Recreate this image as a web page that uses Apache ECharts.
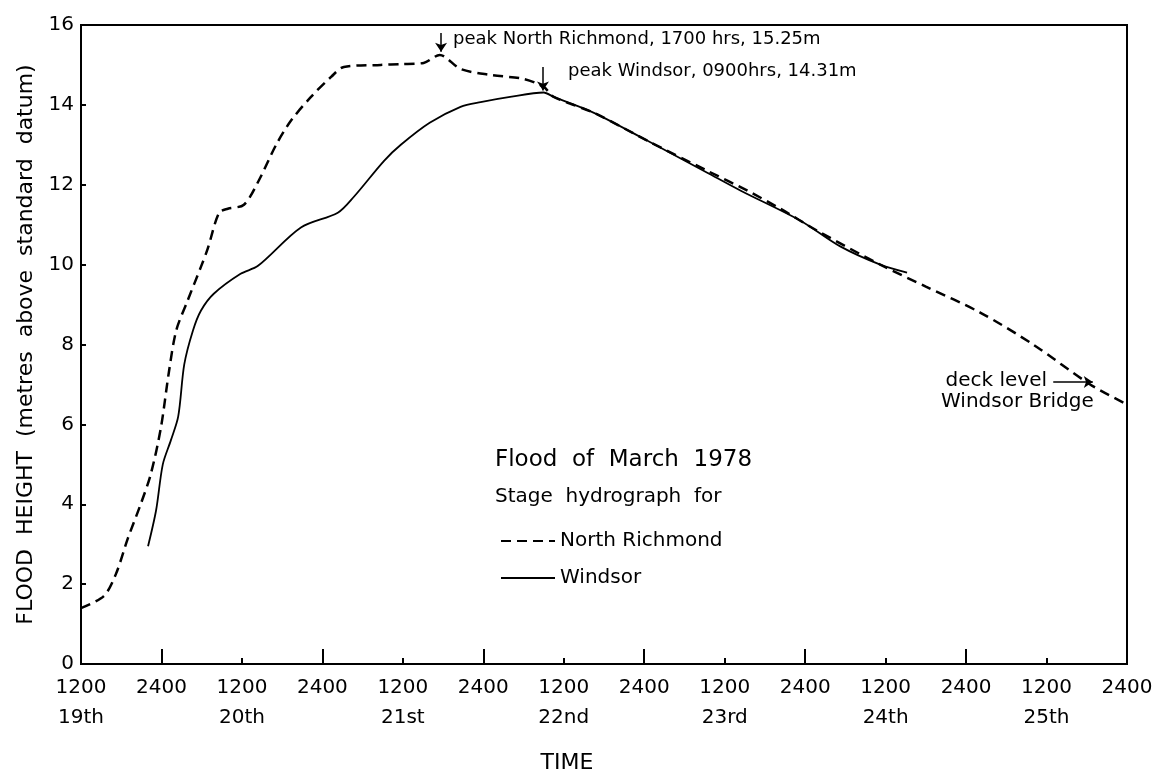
<!DOCTYPE html>
<html lang="en">
<head>
    <meta charset="UTF-8">
    <title>Flood of March 1978</title>
    <style>
        html, body { margin: 0; padding: 0; background: #fff; }
    </style>
</head>
<body>
<div id="main" style="width: 1174px;height:781px;"></div>
<script src="https://cdn.jsdelivr.net/npm/echarts@6.0.0/dist/echarts.min.js"></script>
<script>

// hours after 1200 on the 19th
let nrTime = [0, 3.4, 5.2, 7, 8.9, 10.4, 11.9, 13.1, 14.2, 15.9, 17.9, 18.9, 20.6, 21.9, 24.3, 26.5, 29.1, 31.3, 34.3, 37.3, 39.2, 44.7, 47.7, 51.1, 53.5, 56.6, 61, 66, 69, 70.5, 76.5, 84.5, 93.4, 99.4, 104.3, 109.8, 119.2, 126, 134.1, 142, 150.5, 156]
let nrHeight = [1.4, 1.7, 2.25, 3.15, 4.0, 4.75, 5.9, 7.3, 8.35, 9.1, 9.95, 10.4, 11.3, 11.4, 11.5, 12.1, 13.0, 13.6, 14.2, 14.7, 14.95, 15.0, 15.02, 15.05, 15.25, 14.9, 14.75, 14.65, 14.45, 14.2, 13.8, 13.1, 12.35, 11.85, 11.4, 10.85, 10.0, 9.45, 8.8, 8.0, 7.0, 6.5]

let wTime = [10, 11.2, 12.2, 13.4, 14.5, 15.4, 16.7, 17.9, 19.8, 23.8, 26.4, 32.8, 38.3, 40.7, 45.2, 47.7, 52, 56.6, 59.6, 64, 69, 70.5, 76.5, 84.5, 93.4, 98.4, 107.3, 113.3, 119.2, 123.2]
let wHeight = [2.95, 3.85, 5.0, 5.6, 6.2, 7.5, 8.35, 8.85, 9.27, 9.77, 9.97, 10.93, 11.3, 11.7, 12.6, 13.0, 13.55, 13.95, 14.07, 14.2, 14.31, 14.2, 13.8, 13.1, 12.3, 11.85, 11.1, 10.45, 10.0, 9.8]

let dayLabels = ['19th', '20th', '21st', '22nd', '23rd', '24th', '25th']
let noonTicks = [0, 24, 48, 72, 96, 120, 144]
let midnightTicks = [12, 36, 60, 84, 108, 132, 156]
let labelTicks = [0, 12, 24, 36, 48, 60, 72, 84, 96, 108, 120, 132, 144, 156]

const FONT = 'DejaVu Sans'

let chartDom = document.getElementById('main');
let myChart = echarts.init(chartDom);
let option;

let zip = (xs, ys) => xs.map((x, i) => [x, ys[i]])

let arrowLine = {
    symbol: ['none', 'arrow'],
    symbolSize: 9,
    silent: true,
    animation: false,
    label: {show: false},
    lineStyle: {color: '#000', type: 'solid', width: 1.5}
}

let baseX = {
    type: 'value',
    min: 0,
    max: 156,
    position: 'bottom',
    splitLine: {show: false},
    axisLine: {show: true, lineStyle: {color: '#000', width: 2}}
}

option = {
    animation: false,
    backgroundColor: '#fff',
    textStyle: {fontFamily: FONT, color: '#000'},
    grid: {
        left: 81, right: 47, top: 25, bottom: 117,
        show: true, borderColor: '#000', borderWidth: 2
    },
    xAxis: [
        Object.assign({}, baseX, {
            name: 'TIME',
            nameLocation: 'middle',
            nameGap: 88,
            nameTextStyle: {fontFamily: FONT, fontSize: 22, color: '#000', padding: [0, 74, 0, 0]},
            axisTick: {show: true, inside: true, length: 6, customValues: noonTicks, lineStyle: {color: '#000', width: 2}},
            axisLabel: {
                customValues: labelTicks,
                margin: 9,
                fontFamily: FONT,
                fontSize: 20,
                color: '#000',
                lineHeight: 30,
                formatter: v => {
                    if (v % 24 === 0) return '1200\n' + dayLabels[v / 24]
                    return '2400'
                }
            }
        }),
        Object.assign({}, baseX, {
            axisTick: {show: true, inside: true, length: 15, customValues: midnightTicks, lineStyle: {color: '#000', width: 2}},
            axisLabel: {show: false}
        })
    ],
    yAxis: {
        type: 'value',
        min: 0,
        max: 16,
        interval: 2,
        name: 'FLOOD  HEIGHT  (metres  above  standard  datum)',
        nameLocation: 'middle',
        nameGap: 42,
        nameTextStyle: {fontFamily: FONT, fontSize: 22, color: '#000'},
        splitLine: {show: false},
        axisLine: {show: true, lineStyle: {color: '#000', width: 2}},
        axisTick: {show: true, inside: true, length: 5, lineStyle: {color: '#000', width: 2}},
        axisLabel: {fontFamily: FONT, fontSize: 20, color: '#000', margin: 7}
    },
    legend: {
        orient: 'vertical',
        left: 495,
        top: 526,
        itemWidth: 54,
        itemHeight: 14,
        itemGap: 17,
        itemStyle: {opacity: 0, borderWidth: 0},
        textStyle: {fontFamily: FONT, fontSize: 20, color: '#000'},
        data: ['North Richmond', 'Windsor']
    },
    series: [
        {
            name: 'North Richmond',
            type: 'line',
            data: zip(nrTime, nrHeight),
            smooth: 0.3,
            symbol: 'none',
            lineStyle: {color: '#000', width: 2.5, type: [10, 6]},
            itemStyle: {color: '#000'},
            markLine: Object.assign({}, arrowLine, {
                data: [
                    [{coord: [53.7, 15.8]}, {coord: [53.7, 15.33]}],
                    [{coord: [145, 7.06]}, {coord: [150.9, 7.06]}]
                ]
            })
        },
        {
            name: 'Windsor',
            type: 'line',
            data: zip(wTime, wHeight),
            smooth: 0.3,
            symbol: 'none',
            lineStyle: {color: '#000', width: 1.8, type: 'solid'},
            itemStyle: {color: '#000'},
            markLine: Object.assign({}, arrowLine, {
                data: [
                    [{coord: [68.9, 14.95]}, {coord: [68.9, 14.36]}]
                ]
            })
        }
    ],
    graphic: [
        {type: 'text', left: 453, top: 30, style: {text: 'peak North Richmond, 1700 hrs, 15.25m', font: '18px "DejaVu Sans"', fill: '#000'}},
        {type: 'text', left: 568, top: 62, style: {text: 'peak Windsor, 0900hrs, 14.31m', font: '18px "DejaVu Sans"', fill: '#000'}},
        {type: 'text', left: 495, top: 449, style: {text: 'Flood  of  March  1978', font: '23px "DejaVu Sans"', fill: '#000'}},
        {type: 'text', left: 495, top: 487, style: {text: 'Stage  hydrograph  for', font: '20px "DejaVu Sans"', fill: '#000'}},
        {type: 'text', right: 127, top: 371, style: {text: 'deck level', font: '20px "DejaVu Sans"', fill: '#000'}},
        {type: 'text', left: 941, top: 392, style: {text: 'Windsor Bridge', font: '20px "DejaVu Sans"', fill: '#000'}}
    ]
}

option && myChart.setOption(option);

</script>
</body>
</html>
